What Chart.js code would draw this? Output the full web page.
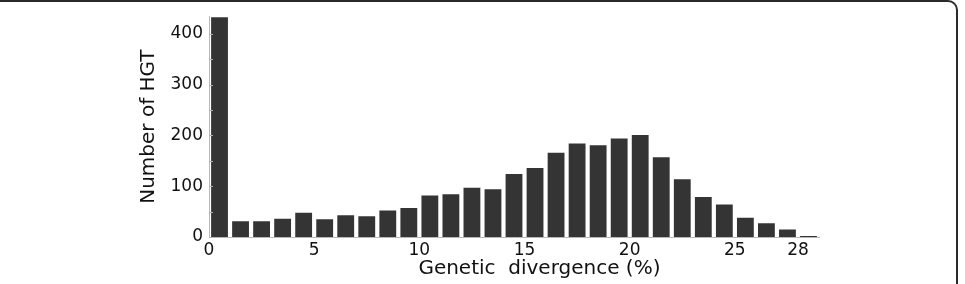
<!DOCTYPE html>
<html>
<head>
<meta charset="utf-8">
<script src="https://cdn.jsdelivr.net/npm/chart.js@4.4.0/dist/chart.umd.min.js"></script>
<style>
    body { margin: 0; background: #fff; }
    #wrap { position: relative; width: 965px; height: 284px; overflow: hidden; }
    #frame {
        position: absolute; left: -4px; top: 0px; width: 962px; height: 300px;
        border-top: 2px solid #2a2a2a; border-right: 2px solid #2a2a2a;
        border-top-right-radius: 10px; box-sizing: border-box;
    }
    canvas { position: absolute; left: 0; top: 0; }
</style>
</head>
<body>
<div id="wrap">
    <div id="frame"></div>
    <canvas id="hist" width="965" height="284"></canvas>
</div>
<script>
// histogram bins: 0..28 % genetic divergence
var bins = [0, 1, 2, 3, 4, 5, 6, 7, 8, 9, 10, 11, 12, 13, 14, 15, 16, 17, 18, 19, 20, 21, 22, 23, 24, 25, 26, 27, 28];
var counts = [433, 31, 31, 36, 48, 35, 43, 41, 52, 57, 82, 84, 97, 94, 124, 136, 166, 184, 181, 194, 201, 157, 114, 79, 64, 38, 27, 15, 2];
var xTicks = [0, 5, 10, 15, 20, 25, 28];
var yTicks = [0, 100, 200, 300, 400];

var fontName = "'DejaVu Sans', sans-serif";

// small inward tick marks, like the original plot
var innerTicks = {
    id: 'innerTicks',
    afterDraw: function (chart) {
        var ctx = chart.ctx;
        var xs = chart.scales.x, ys = chart.scales.y;
        ctx.save();
        ctx.strokeStyle = '#b0b0b0';
        ctx.lineWidth = 1;
        ys.ticks.forEach(function (t) {
            var py = Math.round(ys.getPixelForValue(t.value)) + 0.5;
            ctx.beginPath();
            ctx.moveTo(xs.left, py);
            ctx.lineTo(xs.left + 4, py);
            ctx.stroke();
        });
        ctx.restore();
    }
};

var data = bins.map(function (b, i) { return { x: b + 0.5, y: counts[i] }; });

var chart = new Chart(document.getElementById('hist').getContext('2d'), {
    type: 'bar',
    data: {
        datasets: [{
            label: 'HGT',
            data: data,
            backgroundColor: '#343434',
            borderColor: '#6a6a6a',
            borderWidth: 0,
            barPercentage: 0.8,
            categoryPercentage: 1.0
        }]
    },
    options: {
        responsive: false,
        animation: false,
        layout: { padding: { left: 135, right: 146, top: 14, bottom: 0 } },
        plugins: { legend: { display: false }, tooltip: { enabled: false } },
        scales: {
            x: {
                type: 'linear',
                min: 0,
                max: 29,
                offset: false,
                grid: { display: false, drawTicks: false },
                border: { display: true, color: '#b8b8b8', width: 1 },
                afterBuildTicks: function (scale) {
                    scale.ticks = xTicks.map(function (v) { return { value: v }; });
                },
                afterFit: function (scale) { scale.height = 47; },
                ticks: {
                    autoSkip: false,
                    maxRotation: 0,
                    padding: 3,
                    color: '#111',
                    font: { family: fontName, size: 17 }
                },
                title: {
                    display: true,
                    text: '        Genetic  divergence (%)',
                    color: '#111',
                    font: { family: fontName, size: 20 },
                    padding: { top: 0, bottom: 3 }
                }
            },
            y: {
                min: 0,
                max: 435,
                grid: { display: false, drawTicks: false },
                border: { display: true, color: '#b8b8b8', width: 1 },
                afterFit: function (scale) { scale.width = 74; },
                afterBuildTicks: function (scale) {
                    var t = [];
                    for (var v = 0; v <= 400; v += 50) t.push({ value: v });
                    scale.ticks = t;
                },
                ticks: {
                    padding: 6,
                    color: '#111',
                    font: { family: fontName, size: 17 },
                    callback: function (v) { return yTicks.indexOf(v) >= 0 ? String(v) : ''; }
                },
                title: {
                    display: true,
                    text: 'Number of HGT',
                    color: '#111',
                    font: { family: fontName, size: 20 },
                    padding: { top: 2, bottom: 0 }
                }
            }
        }
    },
    plugins: [innerTicks]
});
</script>
</body>
</html>
